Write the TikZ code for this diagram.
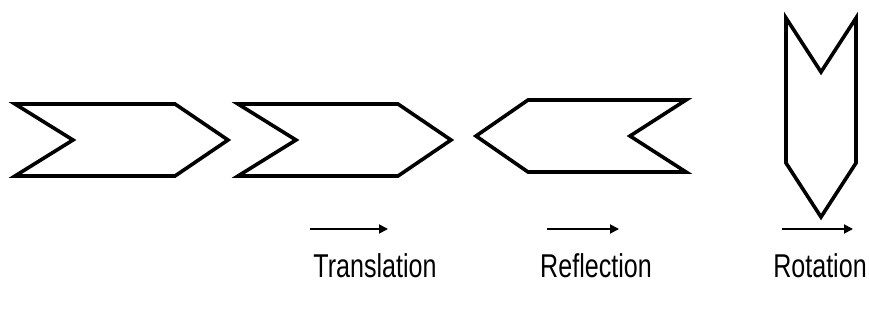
\documentclass[tikz,border=0pt]{standalone}
\usepackage{fontspec}
\setmainfont{Liberation Sans}
\usepackage{graphicx}
\usepackage{tikz}
\usetikzlibrary{positioning,arrows.meta}

\newcommand{\narrowtext}[1]{\scalebox{0.76}[1]{#1}}

\begin{document}
\begin{tikzpicture}[x=1pt, y=-1pt,
    outline/.style={draw, line width=3.6pt, line join=miter},
    motion/.style={draw, line width=1.8pt, -{Triangle[length=9pt, width=9pt]}},
    label/.style={font=\fontsize{33}{38}\selectfont, inner sep=0pt, anchor=base}]
\useasboundingbox (0,0) rectangle (869,320);
% original chevron
\path[outline] (15,104) -- (175,104) -- (228,140) -- (175,176) -- (15,176) -- (73,140) -- cycle;
% translated copy
\path[outline] (238,104) -- (398,104) -- (451,140) -- (398,176) -- (238,176) -- (296,140) -- cycle;
% reflected copy
\path[outline] (686,100) -- (528,100) -- (476,136) -- (528,172) -- (686,172) -- (630,136) -- cycle;
% rotated copy
\path[outline] (786,18) -- (786,163) -- (821,217) -- (856,163) -- (856,18) -- (821,72) -- cycle;

\coordinate (ta) at (310,229);
\coordinate (tb) at (388,229);
\coordinate (fa) at (547,229);
\coordinate (fb) at (619,229);
\coordinate (ra) at (782,229);
\coordinate (rb) at (853,229);
\draw[motion] (ta) -- (tb);
\draw[motion] (fa) -- (fb);
\draw[motion] (ra) -- (rb);

\node[label] (trans) at (375,277) {\narrowtext{Translation}};
\node[label] (refl) at (596,277) {\narrowtext{Reflection}};
\node[label] (rot) at (820,277) {\narrowtext{Rotation}};
\end{tikzpicture}
\end{document}
